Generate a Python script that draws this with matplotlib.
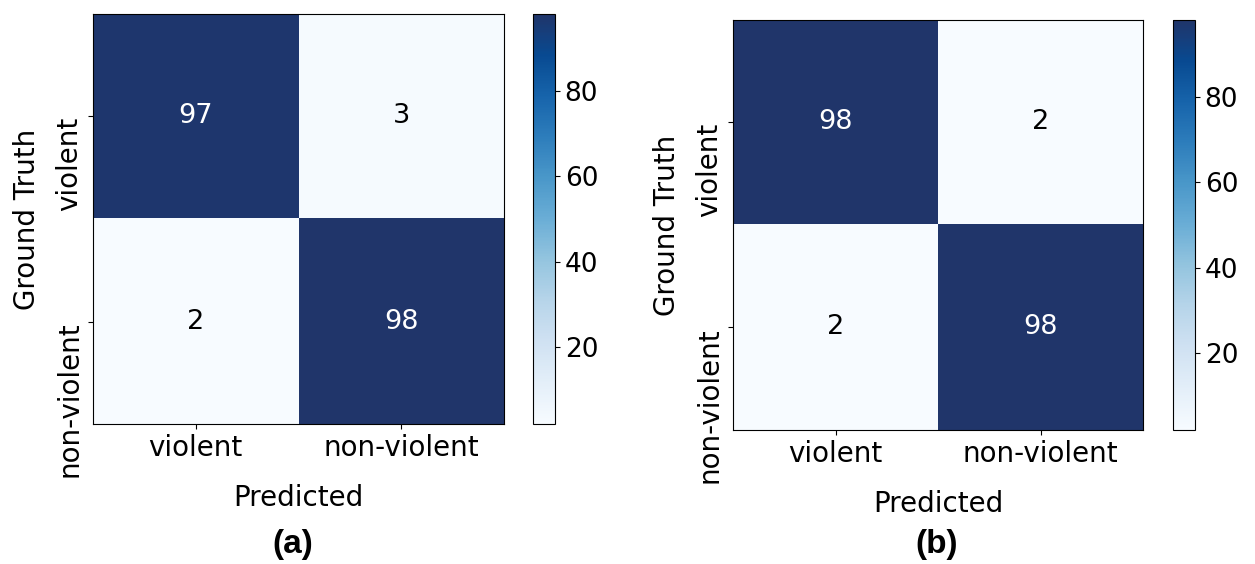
import numpy as np
import matplotlib
matplotlib.use("Agg")
import matplotlib.pyplot as plt
from matplotlib.colors import LinearSegmentedColormap

# confusion matrices (rows = ground truth, cols = predicted)
cm_a = [[97, 3],
        [2, 98]]
cm_b = [[98, 2],
        [2, 98]]
class_names = ["violent", "non-violent"]
panel_names = ["(a)", "(b)"]

plt.rcParams['font.family'] = 'DejaVu Sans'

# Blues, but the dark end is the duller navy seen in the figure
blues = plt.cm.Blues(np.linspace(0, 0.9, 10))
cmap = LinearSegmentedColormap.from_list('blues_navy', list(blues) + ['#20356a'])

fig = plt.figure(figsize=(12.55, 5.64), dpi=100)

boxes = [
    ([0.0741, 0.2482, 0.3275, 0.7270], [0.4247, 0.2482, 0.0175, 0.7270], 0.2335),
    ([0.5841, 0.2376, 0.3267, 0.7270], [0.9347, 0.2376, 0.0175, 0.7270], 0.7466),
]


def draw_cm(cm, ax_box, cb_box, name, name_x):
    cm = np.array(cm)
    ax = fig.add_axes(ax_box)
    cax = fig.add_axes(cb_box)
    im = ax.imshow(cm, cmap=cmap, interpolation='nearest', aspect='auto')
    cb = fig.colorbar(im, cax=cax)
    cb.ax.tick_params(labelsize=19)

    thresh = cm.max() / 2.
    for i in range(cm.shape[0]):
        for j in range(cm.shape[1]):
            ax.text(j, i, format(cm[i, j], 'd'), ha='center', va='center',
                    fontsize=19.5,
                    color='white' if cm[i, j] > thresh else 'black')

    ax.set_xticks(range(len(class_names)))
    ax.set_xticklabels(class_names, fontsize=20)
    ax.set_yticks(range(len(class_names)))
    ax.set_yticklabels(class_names, fontsize=20, rotation=90,
                       rotation_mode='anchor', ha='right', va='bottom')
    ax.set_xlabel('Predicted', fontsize=20, labelpad=16)
    ax.set_ylabel('Ground Truth', fontsize=20, labelpad=10)

    fig.text(name_x, 1 - 544 / 564, name, ha='center', va='center',
             fontsize=24, fontweight='bold', family='Liberation Sans')


for cm, (ax_box, cb_box, nx), name in zip([cm_a, cm_b], boxes, panel_names):
    draw_cm(cm, ax_box, cb_box, name, nx)

fig.savefig('out.png', dpi=100)
